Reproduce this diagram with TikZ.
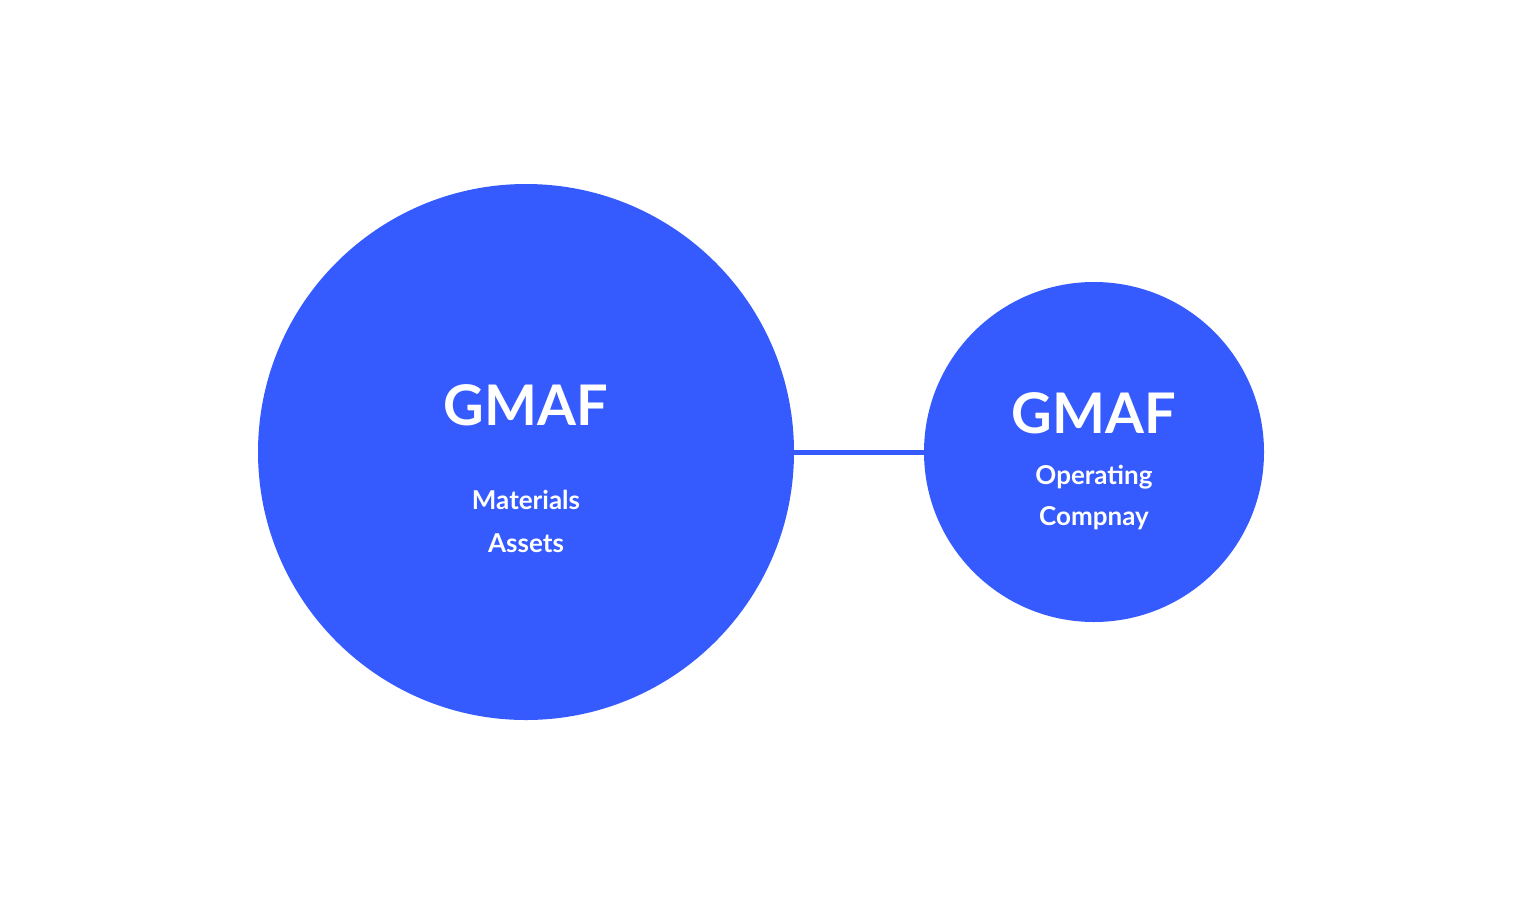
\documentclass[tikz,border=0pt]{standalone}
\usepackage{fontspec}
\setmainfont{Lato}
\definecolor{cblue}{HTML}{355BFF}
\begin{document}
\begin{tikzpicture}[x=1pt,y=-1pt,
  circ/.style={circle,fill=cblue,inner sep=0pt},
  big/.style={text=white,font=\bfseries\fontsize{56}{60}\selectfont},
  small/.style={text=white,font=\bfseries\fontsize{26}{30}\selectfont}]
\useasboundingbox (0,0) rectangle (1522,905);
\node[circ,minimum size=536pt] (L) at (526,452) {};
\node[circ,minimum size=340pt] (R) at (1094,452) {};
\draw[cblue,line width=5pt] (L.east) -- (R.west);
\node[big] (l1) at (526,405) {GMAF};
\node[small] (l2) at (526,500) {Materials};
\node[small] (l3) at (526,543) {Assets};
\node[big] (r1) at (1094,413) {GMAF};
\node[small] (r2) at (1094,477) {Operating};
\node[small] (r3) at (1094,518) {Compnay};
\end{tikzpicture}
\end{document}
